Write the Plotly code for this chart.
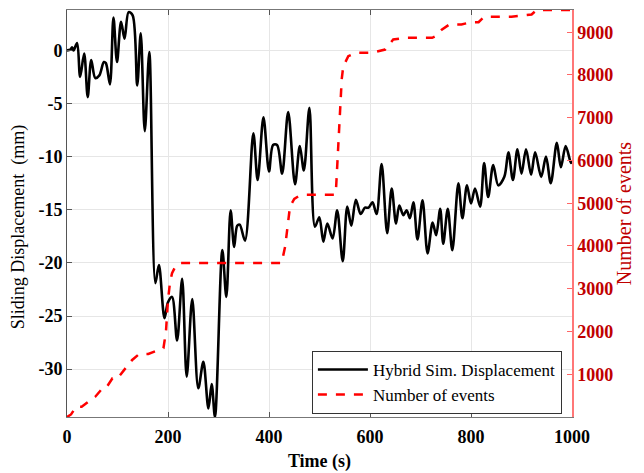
import plotly.graph_objects as go

# Hybrid simulation displacement (mm) vs time (s)
disp_t = [0, 6.6, 10, 13, 20, 26, 34, 41, 48, 56, 64, 73, 77, 85, 92, 99, 107, 114, 122, 130,
          139, 146, 154, 163, 175, 182, 193, 200, 208, 218, 228, 237, 248, 260, 270, 280, 286.5,
          293, 307.6, 315.5, 324, 331, 337, 342, 352.5, 369, 377.5, 389, 400, 408, 416, 426, 438,
          451.5, 461, 469, 480, 491, 499.6, 507.6, 515.5, 526, 535, 546, 555, 563, 572, 581.5,
          590, 597, 605, 613, 623, 634, 643, 651.5, 658, 666, 672.6, 679, 686, 694, 704, 714,
          724, 731, 739, 745, 754, 763, 775, 783, 792, 800, 808, 818, 826, 834, 844, 854, 866,
          874, 883, 892, 900, 909, 919, 927, 939, 948.5, 958, 970, 978, 987.5, 998, 1000]
disp_v = [0, 0.07, 0.3, 0, 0.7, -2.5, -0.3, -4.4, -0.9, -2.6, -2.35, -1.1, -1.2, -3.2, 3.1, -1.1,
          2.7, 1.1, 3.6, 3.3, -3.3, 1.6, -7.6, -0.16, -21.9, -20.2, -25.2, -23.7, -23.2, -27.3,
          -21.5, -30.7, -23.4, -31.8, -29.3, -33.7, -31.4, -34.5, -18.8, -23.2, -15.05, -18.5,
          -16.5, -16.4, -17.9, -7.8, -12.2, -6.3, -11.4, -8.9, -8.9, -11.6, -5.8, -12.6, -9.0,
          -11.3, -5.4, -16.6, -15.7, -18.0, -16.3, -17.7, -15.05, -19.85, -14.7, -16.5, -14.05,
          -15.4, -14.8, -14.8, -14.3, -15.4, -10.7, -17.2, -13.0, -16.3, -14.6, -15.5, -15.05,
          -15.8, -14.3, -17.8, -14.1, -19.1, -16.2, -17.4, -14.9, -18.2, -14.9, -18.8, -12.5,
          -15.8, -12.7, -14.4, -13.0, -14.7, -10.6, -13.8, -10.8, -12.7, -11.9, -9.6, -12.2,
          -9.3, -11.6, -9.3, -11.7, -9.6, -11.9, -10.0, -12.5, -8.7, -11.0, -9.0, -10.6, -10.4]

# Cumulative number of events vs time (s)
ev_t = [0, 8, 18, 29, 56, 70, 77, 90, 100, 129, 143, 161, 191, 196, 200, 204, 208, 215, 224,
        425, 432, 441.6, 450, 458, 471, 491, 531, 533, 537, 540.6, 544, 547, 557, 572, 604,
        630, 646, 672, 723, 729, 742, 757, 781, 800, 815, 826, 880, 920, 930, 1000]
ev_v = [0, 60, 240, 240, 475, 670, 670, 905, 905, 1335, 1475, 1475, 1610, 2000, 2740, 3150,
        3365, 3530, 3600, 3600, 3990, 4925, 5100, 5160, 5200, 5200, 5200, 5395, 6300, 7345,
        7900, 8200, 8440, 8520, 8520, 8595, 8830, 8870, 8870, 8905, 9060, 9180, 9180, 9235,
        9235, 9360, 9360, 9415, 9520, 9520]

x_ticks = [0, 200, 400, 600, 800, 1000]
y_ticks = [0, -5, -10, -15, -20, -25, -30]
y2_ticks = [1000, 2000, 3000, 4000, 5000, 6000, 7000, 8000, 9000]

serif = "Liberation Serif"
dark_red = "#c00000"

fig = go.Figure()
fig.add_trace(go.Scatter(x=disp_t, y=disp_v, mode="lines", name="Hybrid Sim. Displacement",
                         line=dict(color="black", width=2.6, shape="spline", smoothing=0.9)))
fig.add_trace(go.Scatter(x=ev_t, y=ev_v, mode="lines", name="Number of events", yaxis="y2",
                         line=dict(color="#ff0000", width=2.5, dash="dash")))

# page body has an 8px default margin, so the figure is sized to fit the window
fig.update_layout(
    width=636, height=465,
    margin=dict(l=59, r=72, t=2, b=56, autoexpand=False),
    paper_bgcolor="white", plot_bgcolor="white",
    font=dict(family=serif, size=15, color="black"),
    showlegend=True,
    legend=dict(x=0.98, y=0.085, xanchor="right", yanchor="middle",
                bgcolor="white", bordercolor="#333333", borderwidth=1,
                font=dict(family=serif, size=17, color="black"),
                tracegroupgap=0, itemwidth=50),
    xaxis=dict(range=[0, 1000], tickvals=x_ticks, automargin=False,
               ticktext=["<b>%d</b>" % v for v in x_ticks],
               ticks="inside", ticklen=5, tickcolor="#555555", mirror="ticks",
               showline=True, linecolor="#777777", linewidth=1,
               showgrid=True, gridcolor="#e6e6e6", gridwidth=1, zeroline=False,
               ticklabelstandoff=3,
               tickfont=dict(family=serif, size=18, color="black"),
               title=dict(text="<b>Time (s)</b>", font=dict(family=serif, size=18), standoff=8)),
    yaxis=dict(range=[-34.5, 3.8], tickvals=y_ticks, automargin=False,
               ticktext=["<b>%d</b>" % v for v in y_ticks],
               ticks="inside", ticklen=5, tickcolor="#555555",
               showline=True, linecolor="#555555", linewidth=1,
               showgrid=True, gridcolor="#e6e6e6", gridwidth=1, zeroline=False,
               tickfont=dict(family=serif, size=18, color="black"),
               title=dict(text="Sliding Displacement&nbsp;&nbsp;(mm)&nbsp;&nbsp;&nbsp;&nbsp;&nbsp;&nbsp;",
                          font=dict(family=serif, size=18), standoff=10)),
    yaxis2=dict(range=[0, 9520], tickvals=y2_ticks, automargin=False,
                ticktext=["<b>%d</b>" % v for v in y2_ticks],
                overlaying="y", side="right",
                ticks="inside", ticklen=5, tickcolor="#ff6666",
                showline=True, linecolor="#ff7777", linewidth=1.5,
                showgrid=False, zeroline=False,
                tickfont=dict(family=serif, size=18, color=dark_red),
                title=dict(text="Number of events", font=dict(family=serif, size=20, color=dark_red),
                           standoff=3)),
)

fig.write_html("out.html")
